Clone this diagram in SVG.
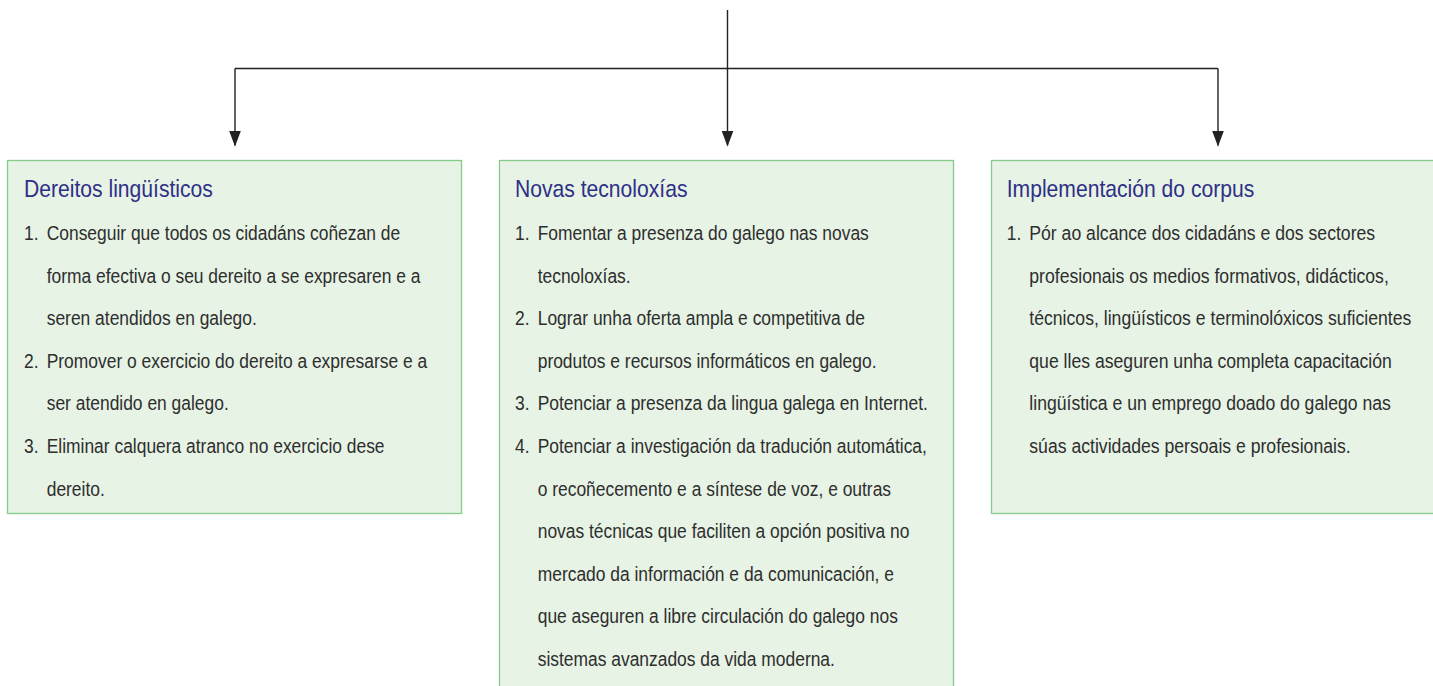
<svg xmlns="http://www.w3.org/2000/svg" width="1433" height="686" viewBox="0 0 1433 686">
<style>
.box{fill:#e7f3e5;stroke:#84cc88;stroke-width:1.3}
.title{font-family:"Liberation Sans",Arial,sans-serif;font-size:24px;fill:#2e2f86}
.body{font-family:"Liberation Sans",Arial,sans-serif;font-size:21px;fill:#2e2e2e}
.conn{fill:none;stroke:#222;stroke-width:1.4}
</style>
<defs>
<marker id="arr" viewBox="0 0 16 12" refX="15" refY="6" markerWidth="16" markerHeight="12" markerUnits="userSpaceOnUse" orient="auto">
<path d="M0,0 L16,6 L0,12 Z" fill="#222"/>
</marker>
</defs>
<rect width="1433" height="686" fill="#fff"/>
<g id="connectors">
<path class="conn" d="M727.5,10 V68.5"/>
<path class="conn" d="M235,68.5 H1218"/>
<path class="conn" d="M235,68.5 V145.5" marker-end="url(#arr)"/>
<path class="conn" d="M727.5,68.5 V145.5" marker-end="url(#arr)"/>
<path class="conn" d="M1218,68.5 V145.5" marker-end="url(#arr)"/>
</g>
<g id="node-dereitos">
<rect class="box" x="7.5" y="160.5" width="454" height="353"/>
<text class="title" transform="translate(24,197) scale(0.88,1)">Dereitos lingüísticos</text>
<g class="body">
<g transform="translate(24,0) scale(0.83,1)">
<text x="0" y="240">1.</text>
<text x="0" y="367.8">2.</text>
<text x="0" y="453">3.</text>
</g>
<g transform="translate(46.7,0) scale(0.83,1)">
<text x="0" y="240">Conseguir que todos os cidadáns coñezan de</text>
<text x="0" y="282.6">forma efectiva o seu dereito a se expresaren e a</text>
<text x="0" y="325.2">seren atendidos en galego.</text>
<text x="0" y="367.8">Promover o exercicio do dereito a expresarse e a</text>
<text x="0" y="410.4">ser atendido en galego.</text>
<text x="0" y="453">Eliminar calquera atranco no exercicio dese</text>
<text x="0" y="495.6">dereito.</text>
</g>
</g>
</g>
<g id="node-novas">
<rect class="box" x="499.5" y="160.5" width="454" height="540"/>
<text class="title" transform="translate(515,197) scale(0.88,1)">Novas tecnoloxías</text>
<g class="body">
<g transform="translate(515,0) scale(0.83,1)">
<text x="0" y="240">1.</text>
<text x="0" y="325.2">2.</text>
<text x="0" y="410.4">3.</text>
<text x="0" y="453">4.</text>
</g>
<g transform="translate(537.7,0) scale(0.83,1)">
<text x="0" y="240">Fomentar a presenza do galego nas novas</text>
<text x="0" y="282.6">tecnoloxías.</text>
<text x="0" y="325.2">Lograr unha oferta ampla e competitiva de</text>
<text x="0" y="367.8">produtos e recursos informáticos en galego.</text>
<text x="0" y="410.4">Potenciar a presenza da lingua galega en Internet.</text>
<text x="0" y="453">Potenciar a investigación da tradución automática,</text>
<text x="0" y="495.6">o recoñecemento e a síntese de voz, e outras</text>
<text x="0" y="538.2">novas técnicas que faciliten a opción positiva no</text>
<text x="0" y="580.8">mercado da información e da comunicación, e</text>
<text x="0" y="623.4">que aseguren a libre circulación do galego nos</text>
<text x="0" y="666">sistemas avanzados da vida moderna.</text>
</g>
</g>
</g>
<g id="node-implementacion">
<rect class="box" x="991.5" y="160.5" width="460" height="353"/>
<text class="title" transform="translate(1006.7,197) scale(0.88,1)">Implementación do corpus</text>
<g class="body">
<g transform="translate(1006.7,0) scale(0.83,1)">
<text x="0" y="240">1.</text>
</g>
<g transform="translate(1029.3,0) scale(0.84,1)">
<text x="0" y="240">Pór ao alcance dos cidadáns e dos sectores</text>
<text x="0" y="282.6">profesionais os medios formativos, didácticos,</text>
<text x="0" y="325.2">técnicos, lingüísticos e terminolóxicos suficientes</text>
<text x="0" y="367.8">que lles aseguren unha completa capacitación</text>
<text x="0" y="410.4">lingüística e un emprego doado do galego nas</text>
<text x="0" y="453">súas actividades persoais e profesionais.</text>
</g>
</g>
</g>
</svg>
